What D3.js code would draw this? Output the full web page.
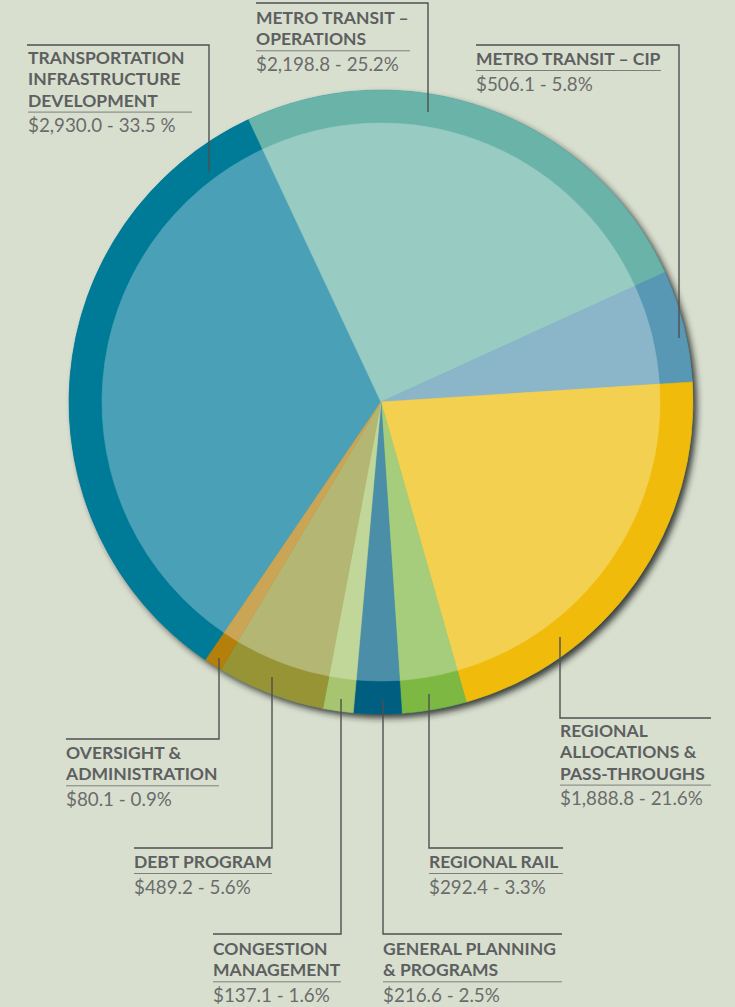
<!DOCTYPE html>
<html>
<head>
<meta charset="utf-8">
<script src="https://cdn.jsdelivr.net/npm/d3@7/dist/d3.min.js"></script>
<style>
  html, body { margin: 0; padding: 0; background: #d9dfcf; }
  svg { display: block; }
  .title { font-family: Lato, "Open Sans", sans-serif; font-weight: 700; font-size: 17.5px; fill: #5d5f61; }
  .value { font-family: Lato, "Open Sans", sans-serif; font-weight: 400; font-size: 18.8px; fill: #6a6c6c; }
</style>
</head>
<body>
<svg id="chart" width="735" height="1007"></svg>
<script>
// Budget categories (millions of dollars), clockwise from the upper left
const categories = [
  "TRANSPORTATION\nINFRASTRUCTURE\nDEVELOPMENT",
  "METRO TRANSIT –\nOPERATIONS",
  "METRO TRANSIT – CIP",
  "REGIONAL\nALLOCATIONS &\nPASS-THROUGHS",
  "REGIONAL RAIL",
  "GENERAL PLANNING\n& PROGRAMS",
  "CONGESTION\nMANAGEMENT",
  "DEBT PROGRAM",
  "OVERSIGHT &\nADMINISTRATION"
];
const amounts = [2930.0, 2198.8, 506.1, 1888.8, 292.4, 216.6, 137.1, 489.2, 80.1];
const percentLabels = ["33.5 %", "25.2%", "5.8%", "21.6%", "3.3%", "2.5%", "1.6%", "5.6%", "0.9%"];

// Ring (outer) and body (inner) colours per slice
const ringColors = ["#007b97", "#69b3a9", "#5898b4", "#f0bb0b", "#7db843", "#005f81", "#a7c46e", "#969435", "#b47f0b"];
const bodyColors = ["#4aa1b7", "#98cbc2", "#8bb6c9", "#f4d050", "#a6cd7b", "#4b8ea8", "#c1d79a", "#b4b673", "#c9a555"];

// Label placement: leader polyline, text anchor and underline width
const labelLayout = [
  { leader: [[209, 172], [209, 45], [27, 45]],  x: 28,  y: 64,  under: 164 },
  { leader: [[428, 112], [428, 3], [256, 3]],   x: 256, y: 24,  under: 154 },
  { leader: [[679, 338], [679, 45], [476, 45]], x: 476, y: 65,  under: 185 },
  { leader: [[560, 637], [560, 718], [711, 718]], x: 560, y: 737, under: 151 },
  { leader: [[429, 694], [429, 848], [563, 848]], x: 429, y: 868, under: 134 },
  { leader: [[383, 700], [383, 934], [562, 934]], x: 383, y: 955, under: 179 },
  { leader: [[341, 699], [341, 934], [213, 934]], x: 213, y: 955, under: 128 },
  { leader: [[272, 677], [272, 848], [134, 848]], x: 134, y: 868, under: 138 },
  { leader: [[219, 658], [219, 739], [66, 739]],  x: 66,  y: 759, under: 153 }
];

const svg = d3.select("#chart");
const cx = 381, cy = 402;
const rOuter = 312, rInner = 279;
const lineH = 21.3;

const defs = svg.append("defs");
const shadow = defs.append("filter").attr("id", "shadow")
  .attr("x", "-10%").attr("y", "-10%").attr("width", "120%").attr("height", "120%");
shadow.append("feGaussianBlur").attr("in", "SourceAlpha").attr("stdDeviation", 3.2).attr("result", "blur");
shadow.append("feOffset").attr("in", "blur").attr("dx", 3.5).attr("dy", 3.5).attr("result", "off");
shadow.append("feFlood").attr("flood-color", "#1e2220").attr("flood-opacity", 0.85);
shadow.append("feComposite").attr("in2", "off").attr("operator", "in").attr("result", "sh");
const merge = shadow.append("feMerge");
merge.append("feMergeNode").attr("in", "sh");
merge.append("feMergeNode").attr("in", "SourceGraphic");

const rotation = -145.8 * Math.PI / 180;
const pie = d3.pie().sort(null).value(d => d)
  .startAngle(rotation).endAngle(rotation + 2 * Math.PI);
const arcs = pie(amounts);

const g = svg.append("g").attr("transform", `translate(${cx},${cy})`);

g.append("circle").attr("r", rOuter).attr("fill", ringColors[0]).attr("filter", "url(#shadow)");

const outerArc = d3.arc().innerRadius(0).outerRadius(rOuter);
const innerArc = d3.arc().innerRadius(0).outerRadius(rInner);

g.selectAll("path.ring").data(arcs).join("path")
  .attr("class", "ring")
  .attr("d", outerArc)
  .attr("fill", (d, i) => ringColors[i])
  .attr("stroke", (d, i) => ringColors[i])
  .attr("stroke-width", 0.6);

g.selectAll("path.body").data(arcs).join("path")
  .attr("class", "body")
  .attr("d", innerArc)
  .attr("fill", (d, i) => bodyColors[i])
  .attr("stroke", (d, i) => bodyColors[i])
  .attr("stroke-width", 0.6);

const fmt = d3.format(",.1f");
const labels = svg.append("g");

labelLayout.forEach((L, i) => {
  labels.append("polyline")
    .attr("points", L.leader.map(p => p.join(",")).join(" "))
    .attr("fill", "none")
    .attr("stroke", "#4e5050")
    .attr("stroke-width", 1.4);

  const lines = categories[i].split("\n");
  lines.forEach((t, k) => {
    labels.append("text").attr("class", "title")
      .attr("x", L.x).attr("y", L.y + k * lineH).text(t);
  });
  const uy = L.y + (lines.length - 1) * lineH + 5.5;
  labels.append("line")
    .attr("x1", L.x).attr("x2", L.x + L.under)
    .attr("y1", uy).attr("y2", uy)
    .attr("stroke", "#7c7e7e").attr("stroke-width", 1);

  labels.append("text").attr("class", "value")
    .attr("x", L.x).attr("y", uy + 20)
    .text("$" + fmt(amounts[i]) + " - " + percentLabels[i]);
});
</script>
</body>
</html>
